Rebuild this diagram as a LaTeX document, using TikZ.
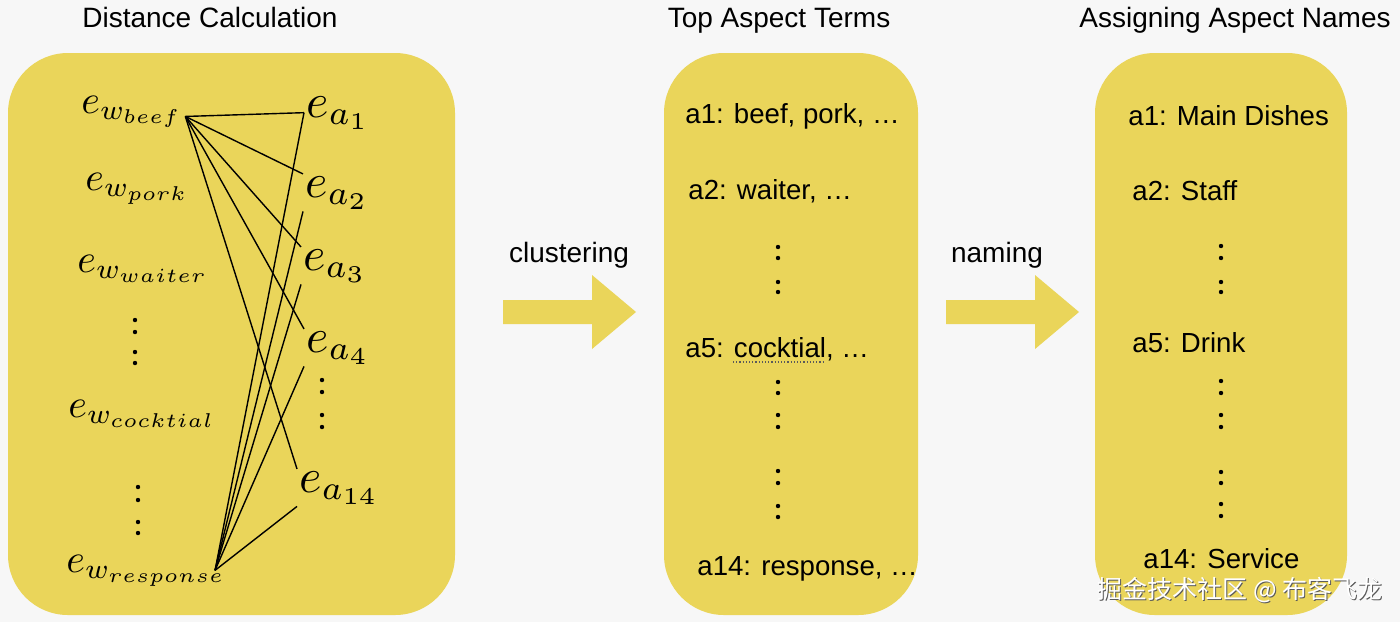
\documentclass[tikz,border=0pt]{standalone}
\usepackage{fontspec}
\setmainfont{Liberation Sans}
\newfontfamily\cjk{Noto Sans CJK SC}
\usepackage{xcolor}
\usepackage{graphicx}
\usepackage{tikz}
\usepackage{amsmath}
\definecolor{aspyellow}{HTML}{EAD55A}
\definecolor{aspback}{HTML}{F7F7F7}
\definecolor{aspgray}{HTML}{5A5A5A}
\newcommand{\wvecsym}[1]{\scalebox{2}{$e_{w_{#1}}$}}
\newcommand{\avecsym}[1]{\scalebox{2.4}{$e_{a_{#1}}$}}

\begin{document}
\begin{tikzpicture}[x=0.5pt,y=-0.5pt,
  panel/.style={fill=aspyellow,rounded corners=30pt,inner sep=0pt},
  title/.style={font=\fontsize{14}{16}\selectfont,anchor=base,inner sep=0pt},
  term/.style={font=\fontsize{13.8}{16}\selectfont,anchor=base west,inner sep=0pt},
  wvec/.style={anchor=base west,inner sep=1pt},
  avec/.style={anchor=base west,inner sep=1pt},
  link/.style={line width=0.7pt}]
  \useasboundingbox[fill=aspback] (0,0) rectangle (1400,622);

  \node[panel,minimum width=223.5pt,minimum height=281pt] (calc) at (231.5,334) {};
  \node[panel,minimum width=127pt,minimum height=281pt] (terms) at (791,334) {};
  \node[panel,minimum width=126pt,minimum height=281pt] (names) at (1221,334) {};

  \node[title] (calctitle) at (210,27) {Distance Calculation};
  \node[title] (termstitle) at (779,27) {Top Aspect Terms};
  \node[title] (namestitle) at (1235,27) {Assigning Aspect Names};

  \foreach \x in {0,443}
    \fill[aspyellow] (503+\x,300) -- (592+\x,300) -- (592+\x,275) -- (636+\x,312)
      -- (592+\x,349) -- (592+\x,324) -- (503+\x,324) -- cycle;
  \node[title] (clustering) at (569,262) {clustering};
  \node[title] (naming) at (997,262) {naming};

  \node[wvec] (wbeef) at (79,113) {\wvecsym{beef}};
  \node[wvec] (wpork) at (83,190) {\wvecsym{pork}};
  \node[wvec] (wwaiter) at (75,272) {\wvecsym{waiter}};
  \node[wvec] (wcocktial) at (66,417) {\wvecsym{cocktial}};
  \node[wvec] (wresponse) at (64,572) {\wvecsym{response}};

  \node[avec] (a1) at (304,117) {\avecsym{1}};
  \node[avec] (a2) at (303,197) {\avecsym{2}};
  \node[avec] (a3) at (301,270) {\avecsym{3}};
  \node[avec] (a4) at (304,352) {\avecsym{4}};
  \node[avec] (a14) at (297,492) {\avecsym{14}};

  \foreach \a/\b in {a1/west,a2/north west,a3/north west,a4/north west,a14/north west}
    \draw[link] ([yshift=-2.5pt]wbeef.east) -- (\a.\b);
  \foreach \a/\b in {a1/west,a2/south west,a3/south west,a4/south west,a14/south west}
    \draw[link] ([xshift=-7pt]wresponse.east) -- (\a.\b);

  \foreach \x/\y in {135/320,135/332,135/352,135/363,138/487,138/500,138/522,138/533,
      322/380,322/392,322/415,322/427,
      778/247,778/258,778/282,778/292,778/382,778/393,778/415,778/427,778/471,778/483,778/506,778/517,
      1221/246,1221/258,1221/282,1221/292,1221/381,1221/393,1221/415,1221/427,1221/472,1221/483,1221/504,1221/516}
    \fill (\x,\y) circle[radius=1.1pt];

  \node[term] (t1) at (685,123) {a1: beef, pork, …};
  \node[term] (t2) at (688,199) {a2: waiter, …};
  \node[term] (t5) at (685,357) {a5: cocktial, …};
  \node[term] (t14) at (697,575) {a14: response, …};
  \draw[aspgray,densely dotted,line width=0.6pt] (733,362) -- (825,362);

  \node[term] (n1) at (1128,125) {a1: Main Dishes};
  \node[term] (n2) at (1132,200) {a2: Staff};
  \node[term] (n5) at (1132,352) {a5: Drink};
  \node[term] (n14) at (1143,568) {a14: Service};

  \node[anchor=base west,inner sep=0pt,text=aspgray,font=\cjk\fontsize{12.5}{14}\selectfont] (markshadow) at (1098.5,599.5) {掘金技术社区 @ 布客飞龙};
  \node[anchor=base west,inner sep=0pt,text=white,font=\cjk\fontsize{12.5}{14}\selectfont] (mark) at (1097,598) {掘金技术社区 @ 布客飞龙};
\end{tikzpicture}
\end{document}
